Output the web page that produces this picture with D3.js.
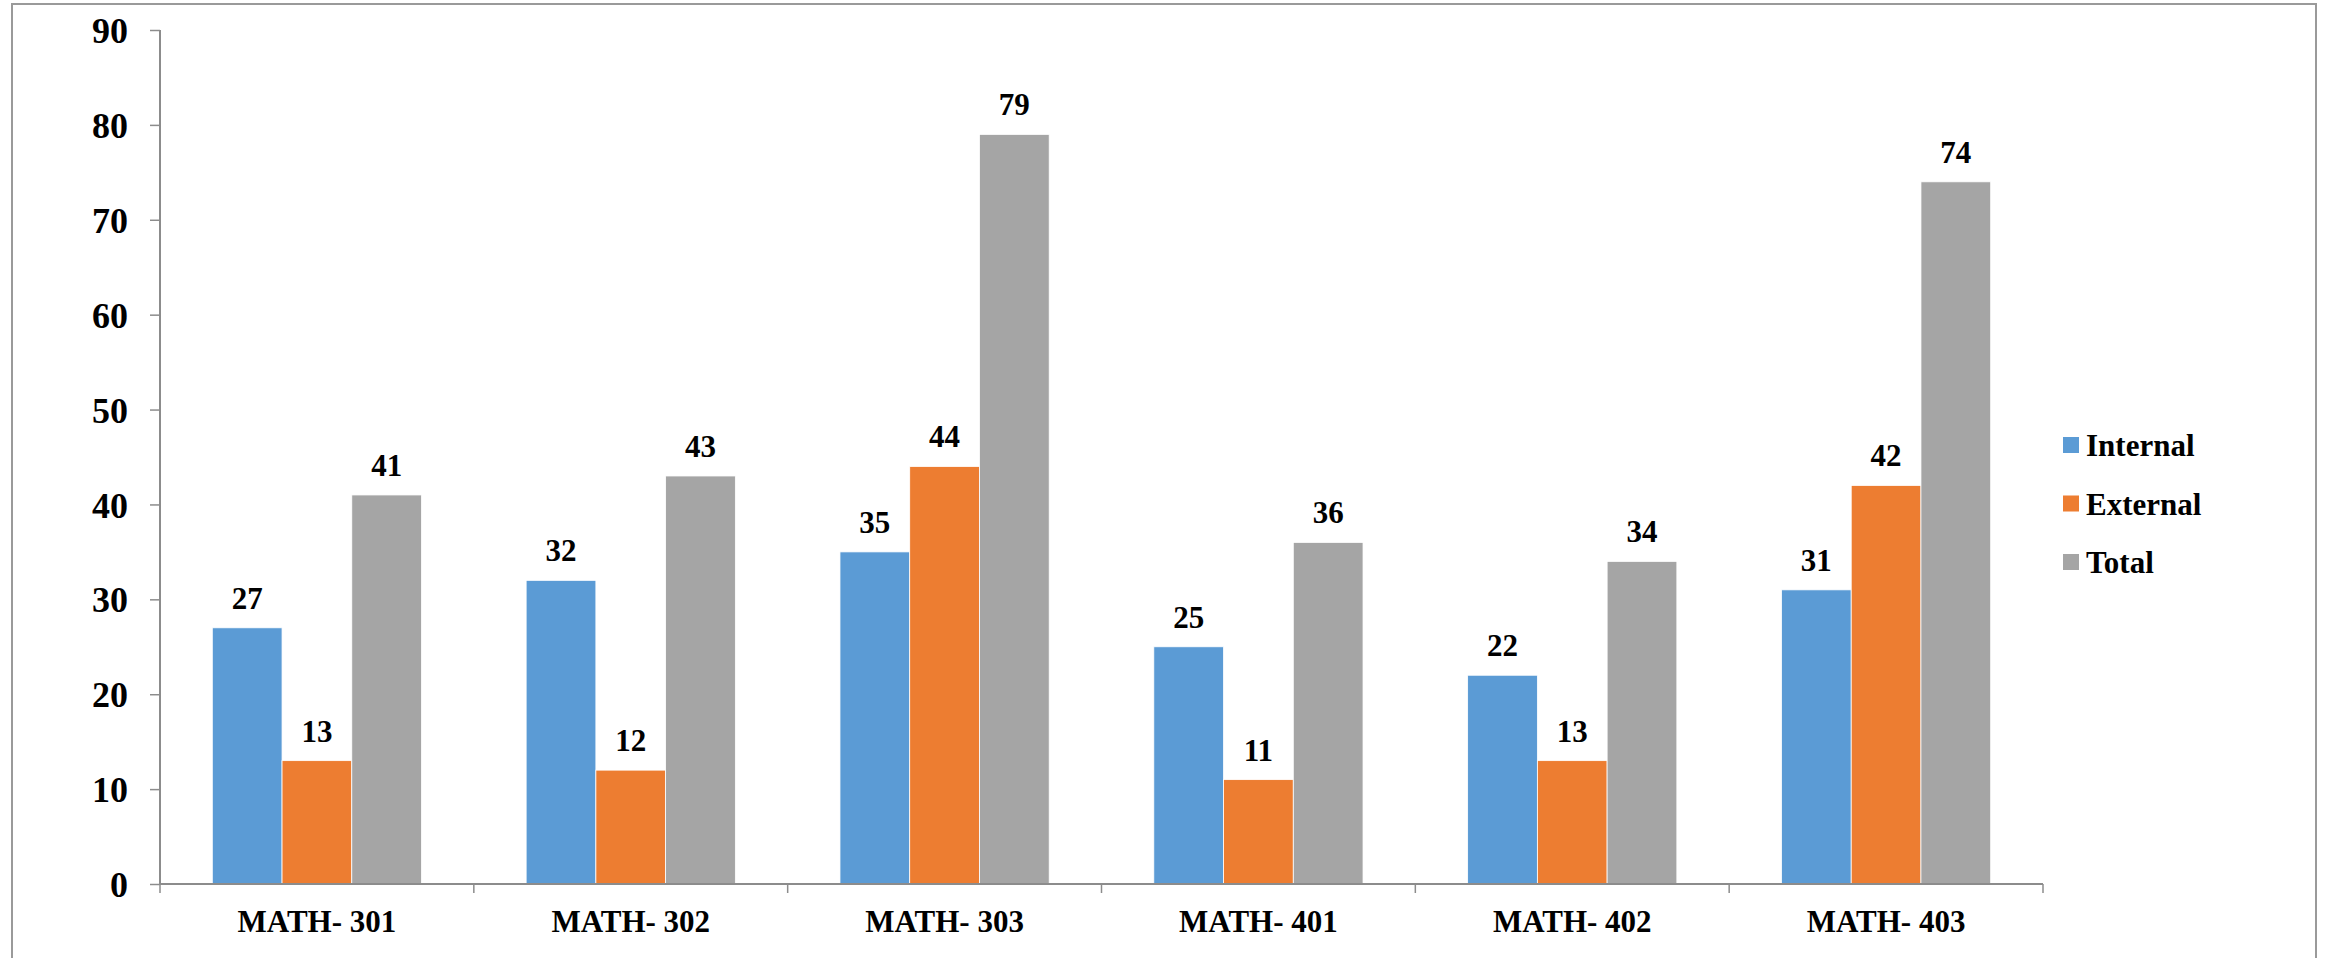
<!DOCTYPE html>
<html>
<head>
<meta charset="utf-8">
<script src="https://cdn.jsdelivr.net/npm/d3@7"></script>
<style>
  html, body { margin: 0; padding: 0; background: #fff; }
  svg { display: block; }
  text { font-family: "Liberation Serif", "Times New Roman", serif; font-weight: bold; fill: #000; }
</style>
</head>
<body>
<script>
const categories = ["MATH- 301", "MATH- 302", "MATH- 303", "MATH- 401", "MATH- 402", "MATH- 403"];
const seriesNames = ["Internal", "External", "Total"];
const internalValues = [27, 32, 35, 25, 22, 31];
const externalValues = [13, 12, 44, 11, 13, 42];
const totalValues = [41, 43, 79, 36, 34, 74];
const yTicks = [0, 10, 20, 30, 40, 50, 60, 70, 80, 90];
const colors = ["#5B9BD5", "#ED7D31", "#A5A5A5"];

(function () {
const series = [internalValues, externalValues, totalValues];
const W = 2325, H = 958;
const svg = d3.select("body").append("svg").attr("width", W).attr("height", H);

// outer frame
svg.append("path")
  .attr("d", `M12,${H + 5} V4 H2316 V${H + 5}`)
  .attr("fill", "none").attr("stroke", "#9a9a9a").attr("stroke-width", 2);

const pLeft = 160, pRight = 2043, pTop = 30, pBottom = 884;
const x = d3.scaleBand().domain(categories).range([pLeft, pRight]).paddingInner(0).paddingOuter(0);
const y = d3.scaleLinear().domain([0, 90]).range([pBottom, pTop]);

// bars: gap width 150% -> group occupies 3/(3+1.5) of band
const groupW = x.bandwidth() * 3 / 4.5;
const xs = d3.scaleBand().domain(seriesNames).range([0, groupW]).padding(0);

const g = svg.append("g");
categories.forEach((c, i) => {
  const gx = x(c) + (x.bandwidth() - groupW) / 2;
  seriesNames.forEach((s, j) => {
    const v = series[j][i];
    g.append("rect")
      .attr("x", gx + xs(s))
      .attr("y", y(v))
      .attr("width", xs.bandwidth())
      .attr("height", y(0) - y(v))
      .attr("fill", colors[j])
      .attr("stroke", "#ffffff").attr("stroke-width", 0.8);
    g.append("text")
      .attr("x", gx + xs(s) + xs.bandwidth() / 2)
      .attr("y", y(v) - 19)
      .attr("text-anchor", "middle")
      .attr("font-size", 31)
      .text(v);
  });
});

// y axis
const yAxis = svg.append("g").attr("transform", `translate(${pLeft},0)`)
  .call(d3.axisLeft(y).tickValues(yTicks).tickSize(10).tickPadding(22).tickFormat(d3.format("d")));
yAxis.select(".domain").attr("stroke", "#8c8c8c").attr("stroke-width", 2).attr("d", `M0,${pTop}V${pBottom}`);
yAxis.selectAll(".tick line").attr("stroke", "#8c8c8c").attr("stroke-width", 1.5);
yAxis.selectAll(".tick text").attr("font-size", 36).attr("dy", "0.35em")
  .style("font-family", "'Liberation Serif', 'Times New Roman', serif").style("font-weight", "bold").attr("fill", "#000");

// x axis
const xAxis = svg.append("g").attr("transform", `translate(0,${pBottom})`)
  .call(d3.axisBottom(x).tickSize(0).tickPadding(26));
xAxis.select(".domain").attr("stroke", "#8c8c8c").attr("stroke-width", 2).attr("d", `M${pLeft},0H${pRight}`);
xAxis.selectAll(".tick text").attr("font-size", 31).attr("dy", "0.71em")
  .style("font-family", "'Liberation Serif', 'Times New Roman', serif").style("font-weight", "bold").attr("fill", "#000");
// category boundary tick marks
const bounds = categories.map(c => x(c)).concat([pRight]);
svg.append("g").selectAll("line").data(bounds).join("line")
  .attr("x1", d => d).attr("x2", d => d)
  .attr("y1", pBottom).attr("y2", pBottom + 9)
  .attr("stroke", "#8c8c8c").attr("stroke-width", 1.5);

// legend
const legend = svg.append("g");
seriesNames.forEach((s, j) => {
  const cy = 445 + j * 58.5;
  legend.append("rect").attr("x", 2063).attr("y", cy - 8).attr("width", 16).attr("height", 16).attr("fill", colors[j]);
  legend.append("text").attr("x", 2086).attr("y", cy + 11).attr("font-size", 31).text(s);
});
})();
</script>
</body>
</html>
